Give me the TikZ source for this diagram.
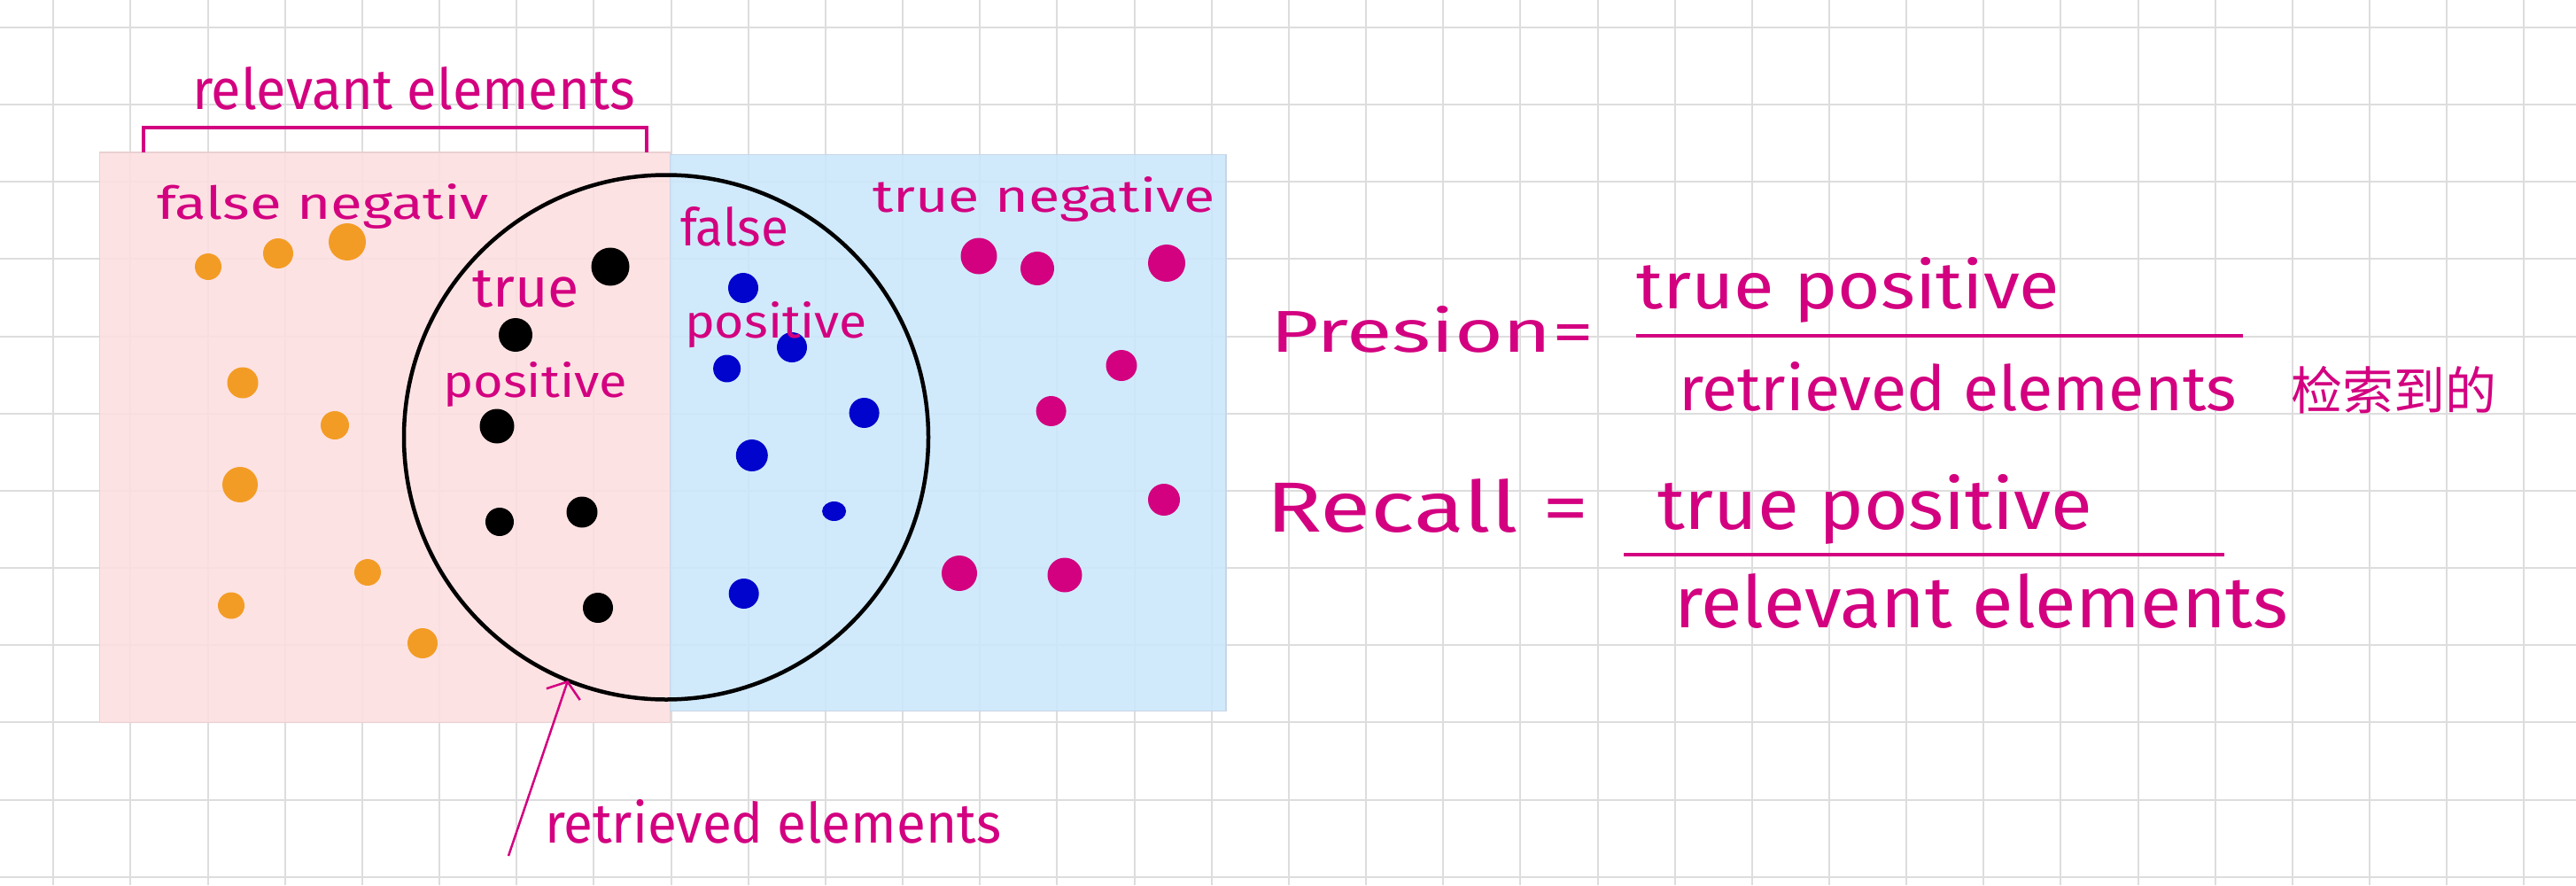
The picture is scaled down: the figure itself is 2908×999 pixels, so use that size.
\documentclass[tikz,border=0pt]{standalone}
\usepackage{graphicx}
\usepackage{fontspec}
\setmainfont{Fira Sans}
\newfontfamily\cjk{Noto Sans CJK SC}
\usetikzlibrary{arrows.meta}
\definecolor{mag}{RGB}{211,0,128}
\definecolor{dotorange}{RGB}{243,156,37}
\definecolor{dotblue}{RGB}{0,4,204}
\definecolor{gridgray}{RGB}{221,221,221}
\definecolor{pinkfill}{RGB}{253,223,224}
\definecolor{bluefill}{RGB}{203,232,252}
\definecolor{pinkedge}{RGB}{233,208,210}
\definecolor{blueedge}{RGB}{200,214,230}
\newcommand\hwbox[3]{\resizebox{#1pt}{#2pt}{#3}}
\begin{document}
\begin{tikzpicture}[x=1pt,y=-1pt,
  gridline/.style={gridgray, line width=2pt},
  hand/.style={text=mag, inner sep=0pt, outer sep=0pt, anchor=base west, font=\fontsize{50}{60}\selectfont},
  odot/.style={fill=dotorange},
  kdot/.style={fill=black},
  bdot/.style={fill=dotblue},
  mdot/.style={fill=mag},
  magline/.style={draw=mag, line width=4.5pt},
  region/.style={line width=1.5pt, fill opacity=0.9}
]
\useasboundingbox (0,0) rectangle (2908,999);
\fill[white] (0,0) rectangle (2908,999);
% grid
\foreach \i in {0,...,32} \draw[gridline] ({60.3+87.16*\i},0) -- ({60.3+87.16*\i},999);
\foreach \j in {0,...,11} \draw[gridline] (0,{31+87.16*\j}) -- (2908,{31+87.16*\j});
% regions
\draw[region, draw=pinkedge, fill=pinkfill] (112.5,172) rectangle (756.5,815.5);
\draw[region, draw=blueedge, fill=bluefill] (756.5,174.5) rectangle (1384,802.5);
% retrieved circle
\node[draw=black, line width=4.5pt, circle, minimum size=592pt, inner sep=0pt, outer sep=0pt] (ret) at (752,493.5) {};
% bracket
\draw[magline, line width=4pt] (161.5,172) -- (161.5,143.5) -- (730,143.5) -- (730,172);
% orange dots (false negatives)
\fill[odot] (235,301) circle[radius=15pt];
\fill[odot] (314,286) circle[radius=17pt];
\fill[odot] (392,273) circle[radius=21pt];
\fill[odot] (274,432) circle[radius=17.5pt];
\fill[odot] (378,480) circle[radius=16pt];
\fill[odot] (271,547) circle[radius=20pt];
\fill[odot] (415,646) circle[radius=15pt];
\fill[odot] (261,683.5) circle[radius=15pt];
\fill[odot] (477,726) circle[radius=17pt];
% black dots (true positives)
\fill[kdot] (689,301) circle[radius=21.5pt];
\fill[kdot] (582,378) circle[radius=19pt];
\fill[kdot] (561,481) circle[radius=19.5pt];
\fill[kdot] (564,589) circle[radius=16pt];
\fill[kdot] (657,578) circle[radius=17.5pt];
\fill[kdot] (675,686) circle[radius=17pt];
% blue dots (false positives)
\fill[bdot] (839,325) circle[radius=17pt];
\fill[bdot] (894,392) circle[radius=17pt];
\fill[bdot] (820.6,416) circle[radius=15.5pt];
\fill[bdot] (975.6,466) circle[radius=17pt];
\fill[bdot] (848.8,514) circle[radius=18pt];
\fill[bdot] (941.6,577) ellipse[x radius=13.5pt, y radius=11pt];
\fill[bdot] (839.7,670) circle[radius=17pt];
% magenta dots (true negatives)
\fill[mdot] (1105,289) circle[radius=20.5pt];
\fill[mdot] (1171,303) circle[radius=19pt];
\fill[mdot] (1317,297) circle[radius=21pt];
\fill[mdot] (1266,412.5) circle[radius=17.5pt];
\fill[mdot] (1186.6,464) circle[radius=17pt];
\fill[mdot] (1314,564) circle[radius=18pt];
\fill[mdot] (1083,647) circle[radius=20pt];
\fill[mdot] (1202,649) circle[radius=19.5pt];
% labels in the diagram
\node[hand] (relTop) at (217,123) {\hwbox{500}{48}{relevant elements}};
\node[hand] (fn) at (177,247) {\hwbox{375}{40}{false negativ}};
\node[hand] (tpTrue) at (533,346) {\hwbox{121}{41}{true}};
\node[hand] (tpPos) at (500,448) {\hwbox{208}{40}{positive}};
\node[hand] (fpFalse) at (768,277) {\hwbox{122}{44}{false}};
\node[hand] (fpPos) at (773,381) {\hwbox{206}{41}{positive}};
\node[hand] (tn) at (985,239) {\hwbox{387}{40}{true negative}};
\node[hand] (retLbl) at (615,951) {\hwbox{515}{49}{retrieved elements}};
% arrow to the circle
\coordinate (tail) at (574,966);
\draw[mag, line width=2.5pt, -{Straight Barb[length=15pt,width=40pt]}] (tail) -- (ret.248.8);
% formulas
\node[hand] (pre) at (1434,397) {\hwbox{365}{52}{Presion=}};
\node[hand] (num1) at (1847,348) {\hwbox{478}{58}{true positive}};
\draw[magline] (1847,379) -- (2532,379);
\node[hand] (den1) at (1895,463) {\hwbox{630}{55}{retrieved elements}};
\node[text=mag, inner sep=0pt, font=\cjk\fontsize{58}{60}\selectfont] (cn) at (2702,440) {检索到的};
\node[hand] (rec) at (1429,600) {\hwbox{365}{60}{Recall =}};
\node[hand] (num2) at (1871,597) {\hwbox{491}{62}{true positive}};
\draw[magline] (1833,626) -- (2511,626);
\node[hand] (den2) at (1890,708) {\hwbox{693}{61}{relevant elements}};
\end{tikzpicture}
\end{document}
